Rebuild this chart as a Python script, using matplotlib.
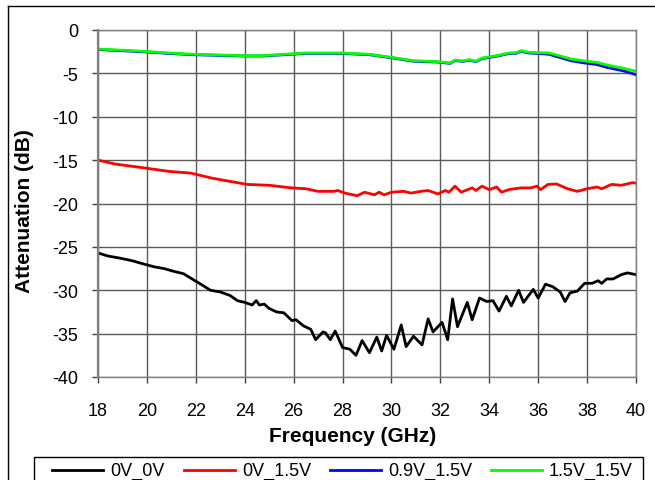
import matplotlib
matplotlib.use("Agg")
import matplotlib.pyplot as plt
from matplotlib.lines import Line2D
from matplotlib.patches import Rectangle

plt.rcParams['font.family'] = ['Liberation Sans', 'DejaVu Sans']
plt.rcParams['axes.unicode_minus'] = False

# ---- data ----
f_black = [18.0, 18.4, 18.9, 19.4, 19.9, 20.3, 20.7, 21.07, 21.5, 21.85, 22.2, 22.6, 23.0, 23.4,
           23.7, 24.0, 24.3, 24.47, 24.6, 24.8, 25.0, 25.3, 25.6, 25.93, 26.1, 26.4, 26.7, 26.9,
           27.2, 27.3, 27.5, 27.7, 28.0, 28.3, 28.55, 28.8, 29.1, 29.4, 29.6, 29.8, 30.1, 30.4,
           30.6, 30.9, 31.25, 31.5, 31.7, 32.07, 32.3, 32.5, 32.7, 33.1, 33.3, 33.6, 33.9, 34.15,
           34.4, 34.7, 34.9, 35.2, 35.4, 35.8, 36.0, 36.3, 36.6, 36.9, 37.1, 37.3, 37.6, 37.9,
           38.2, 38.45, 38.6, 38.8, 39.06, 39.4, 39.65, 40.0]
att_black = [-25.7, -26.05, -26.3, -26.6, -27.0, -27.3, -27.5, -27.8, -28.1, -28.7, -29.3, -30.0,
             -30.2, -30.6, -31.2, -31.4, -31.7, -31.2, -31.7, -31.6, -32.1, -32.5, -32.6, -33.5,
             -33.4, -34.1, -34.5, -35.7, -34.8, -34.9, -35.7, -34.7, -36.6, -36.8, -37.5, -35.8,
             -37.2, -35.4, -37.0, -35.2, -36.8, -34.0, -36.5, -35.3, -36.3, -33.3, -34.8, -33.7,
             -35.7, -31.0, -34.2, -31.4, -33.4, -30.9, -31.3, -31.2, -32.4, -30.7, -31.8, -30.0,
             -31.4, -29.9, -30.9, -29.3, -29.6, -30.2, -31.3, -30.3, -30.1, -29.2, -29.2, -28.9,
             -29.2, -28.7, -28.7, -28.2, -28.0, -28.2]

f_red = [18.0, 18.7, 19.9, 20.9, 21.8, 22.7, 23.5, 24.1, 25.0, 25.9, 26.5, 27.0, 27.65, 27.8,
         28.1, 28.6, 28.9, 29.3, 29.5, 29.7, 30.0, 30.5, 30.8, 31.2, 31.5, 31.9, 32.2, 32.35,
         32.6, 32.85, 33.3, 33.45, 33.7, 34.0, 34.3, 34.5, 34.8, 35.3, 35.7, 35.95, 36.1, 36.4,
         36.75, 37.2, 37.6, 38.0, 38.4, 38.6, 39.0, 39.4, 39.85, 40.0]
att_red = [-15.0, -15.45, -15.9, -16.3, -16.5, -17.1, -17.5, -17.8, -17.9, -18.2, -18.3, -18.6,
           -18.6, -18.5, -18.8, -19.1, -18.7, -19.0, -18.7, -19.0, -18.7, -18.6, -18.8, -18.6,
           -18.5, -18.9, -18.5, -18.7, -18.0, -18.7, -18.2, -18.5, -18.0, -18.4, -18.1, -18.7,
           -18.4, -18.2, -18.2, -18.0, -18.4, -17.8, -17.75, -18.3, -18.6, -18.3, -18.1, -18.3,
           -17.8, -17.9, -17.6, -17.65]

f_green = [18.0, 19.9, 20.9, 21.9, 24.0, 24.7, 26.5, 27.95, 29.1, 30.0, 30.9, 31.9, 32.4, 32.6,
           32.9, 33.2, 33.45, 33.7, 34.3, 34.8, 35.1, 35.3, 35.6, 36.0, 36.45, 36.75, 37.35,
           37.9, 38.4, 38.8, 39.5, 40.0]
att_green = [-2.19, -2.46, -2.65, -2.8, -2.96, -2.96, -2.65, -2.65, -2.8, -3.15, -3.54, -3.65,
             -3.8, -3.46, -3.57, -3.42, -3.61, -3.23, -2.96, -2.65, -2.61, -2.38, -2.57, -2.61,
             -2.65, -2.88, -3.34, -3.57, -3.73, -4.03, -4.42, -4.76]

f_blue = f_green
att_blue = [-2.25, -2.52, -2.7, -2.85, -3.0, -3.0, -2.7, -2.7, -2.85, -3.2, -3.6, -3.7,
            -3.85, -3.52, -3.62, -3.48, -3.66, -3.3, -3.02, -2.72, -2.68, -2.45, -2.65, -2.7,
            -2.8, -3.05, -3.55, -3.8, -3.98, -4.3, -4.72, -5.15]

series = [
    ("0V_0V", f_black, att_black, "#000000"),
    ("0V_1.5V", f_red, att_red, "#ff0000"),
    ("0.9V_1.5V", f_blue, att_blue, "#0000ff"),
    ("1.5V_1.5V", f_green, att_green, "#00ff00"),
]
xticks = list(range(18, 41, 2))
yticks = list(range(-40, 1, 5))

W, H = 655, 481
fig = plt.figure(figsize=(W / 100, H / 100), dpi=100)
ax = fig.add_axes([98 / W, 1 - 378 / H, (636 - 98) / W, (378 - 31) / H])

lines = []
for name, x, y, c in series:
    ln, = ax.plot(x, y, color=c, lw=2.0, label=name, solid_joinstyle='round')
    lines.append(ln)

ax.set_xlim(18, 40)
ax.set_ylim(-40, 0)
ax.set_xticks(xticks)
ax.set_yticks(yticks)
ax.tick_params(axis='both', direction='out', length=4.3, width=1, color='#404040',
               labelsize=13)
ax.tick_params(axis='x', pad=14)
ax.tick_params(axis='y', pad=10)
ax.grid(True, color='#5a5a5a', lw=1.0)
ax.set_axisbelow(True)
for s in ax.spines.values():
    s.set_color('#808080')
    s.set_linewidth(1.0)
ax.spines['left'].set_linewidth(1.6)

ax.set_xlabel("Frequency (GHz)", fontsize=15, fontweight='bold')
ax.set_ylabel("Attenuation (dB)", fontsize=15, fontweight='bold')
ax.xaxis.label.set_va('center')
ax.yaxis.label.set_va('center')
ax.xaxis.set_label_coords((353 - 98) / 538, -(437 - 378) / 347)
ax.yaxis.set_label_coords((25 - 98) / 538, 1 - (211 - 31) / 347)

# figure border (left and top only visible in the crop)
fig.add_artist(Line2D([8 / W, 8 / W], [0, 1 - 7 / H], transform=fig.transFigure,
                      color='#000000', lw=1.0))
fig.add_artist(Line2D([8 / W, 1], [1 - 7 / H, 1 - 7 / H], transform=fig.transFigure,
                      color='#000000', lw=1.0))

# legend box (runs off the bottom of the image)
fig.add_artist(Rectangle((34 / W, -0.05), (643 - 34) / W, 0.05 + 1 - 458 / H,
                         transform=fig.transFigure, fill=False, edgecolor='#000000', lw=1.0))
entry_x = [52, 184, 330, 491]
ly = 1 - 471 / H
for ln, ex in zip(lines, entry_x):
    fig.add_artist(Line2D([ex / W, (ex + 51) / W], [ly, ly], transform=fig.transFigure,
                          color=ln.get_color(), lw=2.0))
    fig.text((ex + 58) / W, ly, ln.get_label(), fontsize=13, va='center', ha='left')

fig.savefig("out.png", dpi=100)
